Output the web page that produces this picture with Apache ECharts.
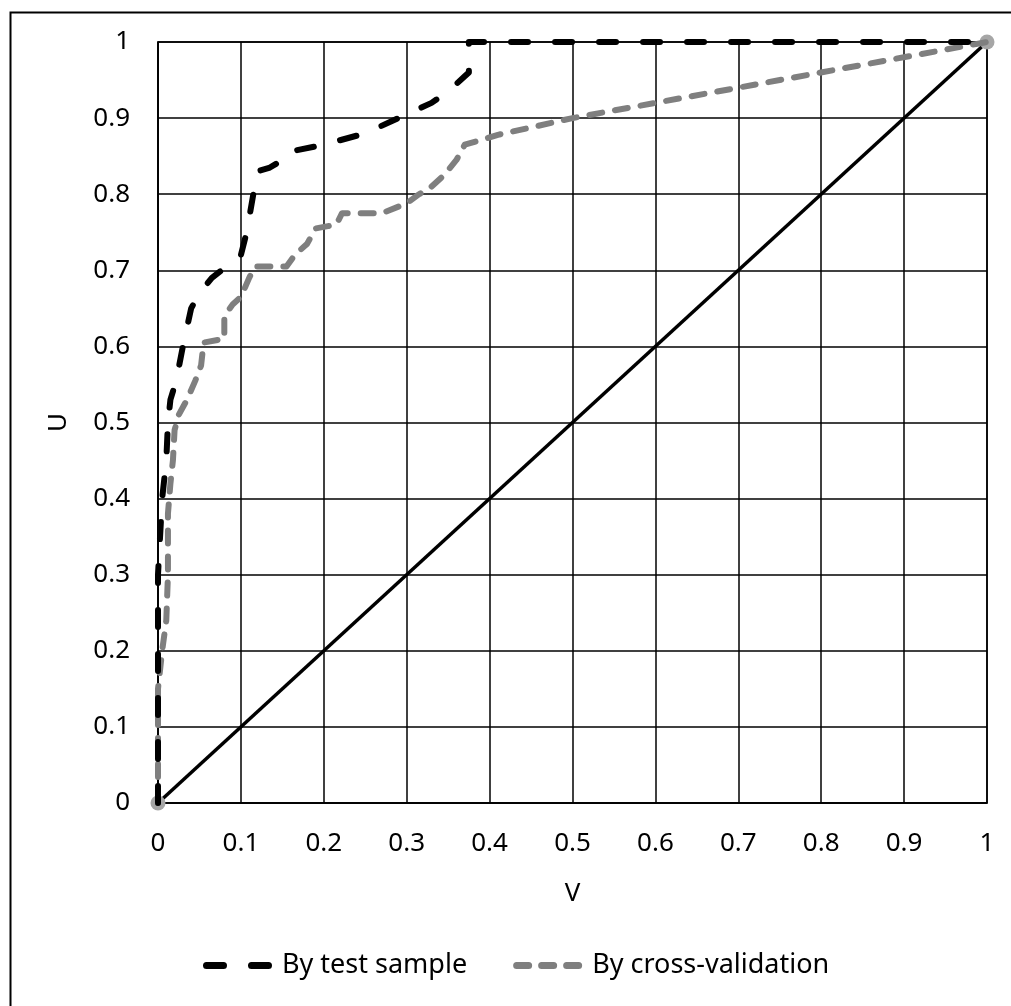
<!DOCTYPE html>
<html>
<head>
<meta charset="utf-8">
<script src="https://cdn.jsdelivr.net/npm/echarts@6/dist/echarts.min.js"></script>
<style>
html,body{margin:0;padding:0;background:#fff;}
#chart{width:1011px;height:1006px;}
</style>
</head>
<body>
<div id="chart"></div>
<script>
var tickValues = [0,0.1,0.2,0.3,0.4,0.5,0.6,0.7,0.8,0.9,1];
var testV = [0,0,0.005,0.01,0.012,0.015,0.022,0.03,0.04,0.05,0.065,0.085,0.1,0.107,0.115,0.12,0.135,0.15,0.155,0.2,0.25,0.3,0.33,0.35,0.37,0.375,0.375,1];
var testU = [0,0.3,0.4,0.45,0.5,0.53,0.555,0.6,0.65,0.67,0.69,0.707,0.72,0.75,0.8,0.83,0.835,0.845,0.855,0.865,0.88,0.905,0.92,0.935,0.955,0.96,1,1];
var cvV = [0,0,0.005,0.01,0.012,0.012,0.015,0.018,0.02,0.025,0.035,0.045,0.052,0.055,0.08,0.08,0.09,0.1,0.11,0.117,0.155,0.165,0.18,0.19,0.205,0.215,0.222,0.27,0.3,0.315,0.33,0.345,0.36,0.37,0.41,0.5,1];
var cvU = [0,0.15,0.2,0.24,0.3,0.38,0.42,0.45,0.49,0.51,0.53,0.555,0.575,0.605,0.61,0.64,0.655,0.665,0.69,0.705,0.705,0.72,0.735,0.755,0.758,0.76,0.775,0.775,0.788,0.8,0.81,0.825,0.845,0.865,0.878,0.9,1];
var diagV = [0,1];
var diagU = [0,1];
var seriesNames = ['By test sample','By cross-validation'];

function zip(a,b){return a.map(function(v,i){return [v,b[i]];});}
function pill(x0, x1, h){
  var r = h/2;
  return 'M'+(x0+r)+',0 L'+(x1-r)+',0 Q'+x1+',0 '+x1+','+r+' Q'+x1+','+h+' '+(x1-r)+','+h+
         ' L'+(x0+r)+','+h+' Q'+x0+','+h+' '+x0+','+r+' Q'+x0+',0 '+(x0+r)+',0 Z';
}

var FONT = 'Noto Sans';
var chart = echarts.init(document.getElementById('chart'), null, {renderer:'canvas'});
var axisCommon = {
  type:'value', min:0, max:1, interval:0.1,
  axisLine:{show:true, lineStyle:{color:'#000', width:1.5}},
  axisTick:{show:false},
  splitLine:{show:true, lineStyle:{color:'#000', width:1.5}},
  axisLabel:{color:'#000', fontSize:26, fontFamily:FONT,
    formatter:function(v){return String(Math.round(v*10)/10);}},
  nameTextStyle:{color:'#000', fontSize:26, fontFamily:FONT}
};
var iconBlack = 'path://' + pill(0,24,7) + ' ' + pill(45,69,7);
var iconGrey = 'path://' + pill(0,19,7) + ' ' + pill(25,44,7) + ' ' + pill(50,69,7);
chart.setOption({
  animation:false,
  backgroundColor:'#fff',
  grid:{left:158, right:24, top:42, bottom:203, containLabel:false,
        show:true, borderColor:'#000', borderWidth:1.5},
  xAxis: Object.assign({}, axisCommon, {
    name:'V', nameLocation:'middle', nameGap:78,
    axisLabel:Object.assign({}, axisCommon.axisLabel, {margin:28})
  }),
  yAxis: Object.assign({}, axisCommon, {
    name:'U', nameLocation:'middle', nameGap:86, nameRotate:90,
    axisLabel:Object.assign({}, axisCommon.axisLabel, {margin:28})
  }),
  legend:{
    data:[
      {name:seriesNames[0], icon:iconBlack, itemStyle:{color:'#000', borderWidth:0}, lineStyle:{width:0, opacity:0}},
      {name:seriesNames[1], icon:iconGrey, itemStyle:{color:'#7f7f7f', borderWidth:0}, lineStyle:{width:0, opacity:0}}
    ],
    bottom:22, left:198,
    itemWidth:69, itemHeight:7, itemGap:46,
    itemStyle:{borderWidth:0},
    lineStyle:{width:0},
    textStyle:{color:'#000', fontSize:27, fontFamily:FONT, padding:[0,0,0,5]}
  },
  graphic:[{type:'rect', left:8, top:10, shape:{width:1100, height:1100},
    style:{fill:'none', stroke:'#000', lineWidth:2}, silent:true, z:-10}],
  series:[
    {name:'diag', type:'line', data:zip(diagV,diagU), symbol:'circle', symbolSize:15,
     showSymbol:true, itemStyle:{color:'#a6a6a6'},
     lineStyle:{color:'#000', width:3.5, type:'solid'}, z:1},
    {name:seriesNames[1], type:'line', data:zip(cvV,cvU), symbol:'none',
     itemStyle:{color:'#7f7f7f'},
     lineStyle:{color:'#7f7f7f', width:6, type:[13,13], cap:'round', join:'round'}, z:2},
    {name:seriesNames[0], type:'line', data:zip(testV,testU), symbol:'none',
     itemStyle:{color:'#000'},
     lineStyle:{color:'#000', width:6, type:[17,27], cap:'round', join:'round'}, z:3}
  ]
});
</script>
</body>
</html>
